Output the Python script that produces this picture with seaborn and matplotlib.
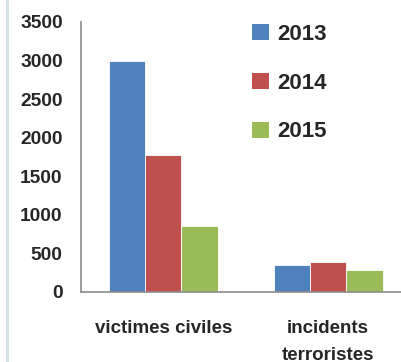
import matplotlib
matplotlib.use("Agg")
import matplotlib.pyplot as plt
import seaborn as sns
import pandas as pd
from matplotlib.lines import Line2D

categories = ["victimes civiles", "incidents\nterroristes"]
years = ["2013", "2014", "2015"]
values_2013 = [3000, 350]
values_2014 = [1780, 395]
values_2015 = [850, 285]
yticks = [0, 500, 1000, 1500, 2000, 2500, 3000, 3500]
colors = ["#4F81BD", "#C0504D", "#9BBB59"]

rows = []
for yr, vals in zip(years, [values_2013, values_2014, values_2015]):
    for c, v in zip(categories, vals):
        rows.append({"cat": c, "year": yr, "val": v})
df = pd.DataFrame(rows)

sns.set_theme(style="white")
plt.rcParams['font.family'] = ['Liberation Sans', 'DejaVu Sans']

fig = plt.figure(figsize=(4.01, 3.62), dpi=100)
W, H = 401, 362
ax = fig.add_axes([80.7 / W, 70 / H, 330 / W, 270 / H])

sns.barplot(data=df, x="cat", y="val", hue="year", palette=colors,
            width=0.66, saturation=1, ax=ax, legend=True)

ax.set_xlim(-0.5, 1.5)
ax.set_ylim(0, 3500)
ax.set_yticks(yticks)
ax.set_yticklabels([str(t) for t in yticks], fontsize=13.8, fontweight="bold")
ax.set_xlabel("")
ax.set_ylabel("")

ax.set_xticks([-0.5, 0.5, 1.5])
ax.set_xticklabels([])
ax.set_xticks([0, 1], minor=True)
ax.set_xticklabels(categories, minor=True, fontsize=13.5, fontweight="bold",
                   linespacing=1.75)
ax.tick_params(axis="x", which="minor", length=0, pad=20)
ax.tick_params(axis="x", which="major", length=7, width=1.2, color="#8c8c8c", direction="out")
ax.tick_params(axis="y", length=7, width=1.2, color="#8c8c8c", direction="out", pad=6)
for lab in ax.get_xticklabels(minor=True):
    lab.set_verticalalignment("top")

for s in ["top", "right"]:
    ax.spines[s].set_visible(False)
for s in ["left", "bottom"]:
    ax.spines[s].set_color("#8c8c8c")
    ax.spines[s].set_linewidth(1.2)

for p in ax.patches:
    p.set_edgecolor("white")
    p.set_linewidth(0.6)

leg = ax.get_legend()
if leg is not None:
    leg.remove()
handles = [plt.Rectangle((0, 0), 1, 1, facecolor=c, edgecolor="none") for c in colors]
fig.legend(handles, years, loc="upper left", bbox_to_anchor=(243 / W, 1 - 15 / H),
           frameon=False, prop={"size": 16, "weight": "bold"},
           handlelength=0.75, handleheight=0.75, handletextpad=0.4,
           labelspacing=1.25, borderaxespad=0)

fig.add_artist(Line2D([7 / W, 7 / W], [0, 1], color="#d6e2e6", linewidth=2.2))

fig.savefig("out.png", dpi=100)
